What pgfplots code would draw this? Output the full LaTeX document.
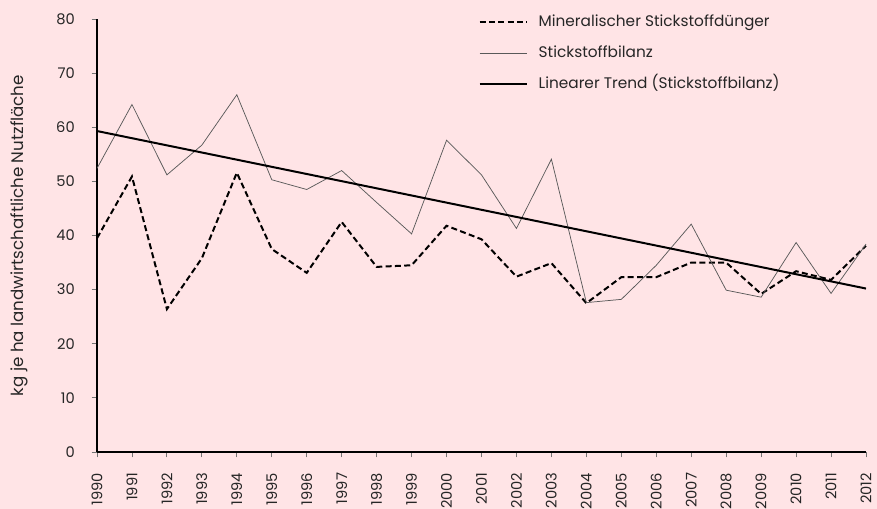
\documentclass[border=0pt]{standalone}
\usepackage{fontspec}
\setmainfont{Poppins}
\usepackage{pgfplots}
\pgfplotsset{compat=1.18}
\definecolor{bgpink}{RGB}{255,228,230}
\definecolor{txt}{RGB}{38,38,38}

\begin{document}
\begin{tikzpicture}
\fill[bgpink] (-72.75pt,-42.75pt) rectangle (585pt,339pt);
\begin{axis}[
  at={(0,0)}, anchor=south west,
  width=576.75pt, height=324.75pt, scale only axis,
  xmin=1990, xmax=2012, ymin=0, ymax=80,
  axis x line*=bottom, axis y line*=left,
  axis line style={black, line width=0.9pt},
  xtick={1990,...,2012}, ytick={0,10,...,80},
  tick align=outside, major tick length=4pt,
  tick style={black!55, line width=0.6pt},
  /pgf/number format/assume math mode=true,
  xticklabel={\pgfmathprintnumber[1000 sep={}]{\tick}},
  every tick label/.append style={font=\fontsize{11}{13}\selectfont, text=txt},
  xticklabel style={anchor=east, inner sep=0pt, yshift=-11.5pt, rotate=90},
  yticklabel style={anchor=east, inner sep=0pt},
  yticklabel shift=12.5pt,
  ylabel={kg je ha landwirtschaftliche Nutzfläche},
  ylabel style={at={(axis description cs:-0.1014,0.5)}, anchor=center,
    font=\fontsize{12.5}{14}\selectfont, text=txt},
  legend style={draw=none, fill=none, at={(axis description cs:0.496,1.009)},
    anchor=north west, font=\fontsize{11.5}{13}\selectfont, text=txt,
    row sep=12.75pt, inner sep=0pt,
    nodes={inner sep=0pt, text height=8.5pt, text depth=2pt}},
  legend cell align=left,
  legend image code/.code={\draw[#1] (0pt,0pt) -- (35.25pt,0pt);},
  clip=false,
]
\addplot[black, line width=1.5pt, dash pattern=on 4.5pt off 2.5pt] coordinates {
  (1990,39.5) (1991,50.9) (1992,26.4) (1993,35.8) (1994,51.6) (1995,37.5)
  (1996,33.1) (1997,42.5) (1998,34.2) (1999,34.5) (2000,41.8) (2001,39.3)
  (2002,32.4) (2003,34.9) (2004,27.5) (2005,32.3) (2006,32.3) (2007,35.0)
  (2008,35.0) (2009,29.2) (2010,33.4) (2011,31.8) (2012,38.1)};
\addplot[black!65, line width=0.55pt] coordinates {
  (1990,52.4) (1991,64.2) (1992,51.2) (1993,56.7) (1994,66.0) (1995,50.3)
  (1996,48.5) (1997,52.0) (1998,46.1) (1999,40.3) (2000,57.6) (2001,51.2)
  (2002,41.3) (2003,54.1) (2004,27.6) (2005,28.2) (2006,34.5) (2007,42.1)
  (2008,29.9) (2009,28.6) (2010,38.7) (2011,29.3) (2012,38.4)};
\addplot[black, line width=1.5pt] coordinates {(1990,59.3) (2012,30.2)};
\legend{\hspace{8.25pt}Mineralischer Stickstoffdünger,\hspace{8.25pt}Stickstoffbilanz,\hspace{8.25pt}Linearer Trend (Stickstoffbilanz)}
\end{axis}
\pgfresetboundingbox
\path[use as bounding box] (-72.75pt,-42.75pt) rectangle (585pt,339pt);
\end{tikzpicture}
\end{document}
